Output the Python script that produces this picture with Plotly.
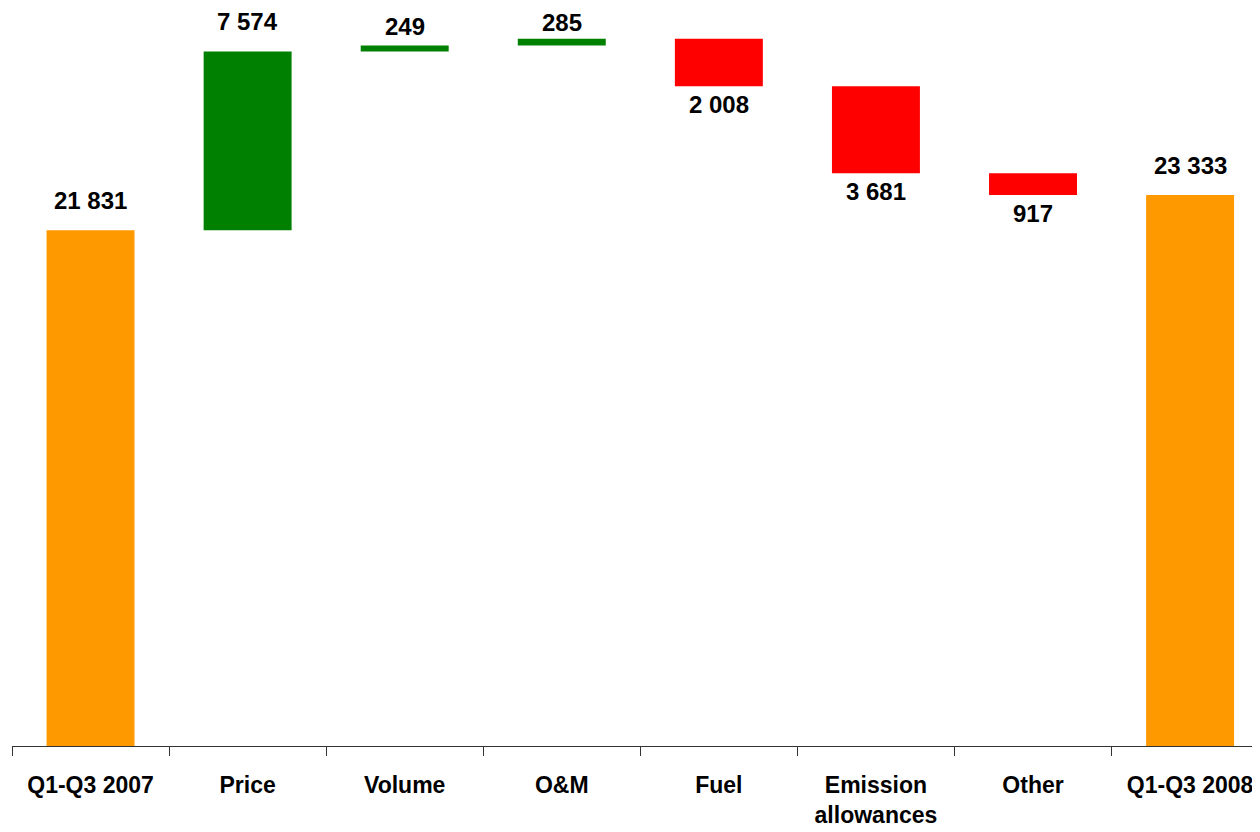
import plotly.graph_objects as go

categories = ["Q1-Q3 2007", "Price", "Volume", "O&M", "Fuel", "Emission<br>allowances", "Other", "Q1-Q3 2008"]
values = [21831, 7574, 249, 285, -2008, -3681, -917, 23333]
measures = ["absolute", "relative", "relative", "relative", "relative", "relative", "relative", "total"]

FONT = "Liberation Sans, Arial"
Y_MAX = 31245
PLOT_H = 738  # plot area height in px

def fmt(v):
    return f"{abs(v):,}".replace(",", " ")

fig = go.Figure(go.Waterfall(
    x=categories,
    y=values,
    measure=measures,
    width=0.56,
    increasing=dict(marker=dict(color="#008000")),
    decreasing=dict(marker=dict(color="#FF0000")),
    totals=dict(marker=dict(color="#FF9900")),
    connector=dict(visible=False),
    hoverinfo="skip",
))

# value labels computed from cumulative sums; labels that would leave the
# chart area are pulled closer to the bar (as the source chart does)
running = 0
for cat, v, m in zip(categories, values, measures):
    if m == "absolute":
        start, end = 0, v
        running = v
    elif m == "total":
        start, end = 0, running
    else:
        start, end = running, running + v
        running += v
    up = end >= start
    if up:
        top_px = PLOT_H * (1 - end / Y_MAX)
        shift = 14 if top_px - 14 - 29 >= 0 else max(1, min(4, int(top_px - 29 - 2)))
    else:
        shift = -3
    fig.add_annotation(x=cat, y=end, text=f"<b>{fmt(v)}</b>", showarrow=False,
                       yanchor="bottom" if up else "top",
                       yshift=shift,
                       font=dict(family=FONT, size=24, color="black"))

fig.update_layout(
    width=1252, height=824,
    margin=dict(l=4, r=0, t=0, b=86),
    plot_bgcolor="white", paper_bgcolor="white",
    showlegend=False,
    font=dict(family=FONT, size=23, color="black"),
)
fig.update_xaxes(
    type="category",
    range=[-0.5, 7.445],
    tickmode="array", tickvals=categories,
    ticktext=[f"<b>{c}</b>" for c in categories],
    showline=True, linecolor="#333333", linewidth=1,
    ticks="outside", tickson="boundaries", ticklen=9, tickcolor="#333333",
    showgrid=False, zeroline=False,
    ticklabelstandoff=18,
    tickfont=dict(family=FONT, size=23, color="black"),
)
fig.update_yaxes(range=[0, Y_MAX], visible=False, showgrid=False, zeroline=False)

fig.write_html("out.html")
